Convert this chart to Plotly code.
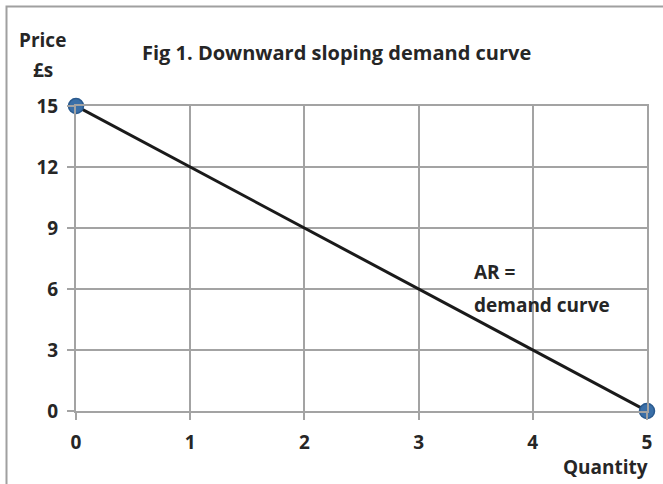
import plotly.graph_objects as go

quantity = [0, 5]
price = [15, 0]
x_ticks = [0, 1, 2, 3, 4, 5]
y_ticks = [0, 3, 6, 9, 12, 15]

W, H = 663, 484
L, R, T, B = 76, 16, 106, 73
grid = "#a3a3a3"
txt = "#262626"
font_fam = "Open Sans, Lato, sans-serif"
FS = 19

fig = go.Figure()
fig.add_trace(go.Scatter(
    x=quantity, y=price, mode="lines+markers",
    line=dict(color="#1a1a1a", width=3),
    marker=dict(size=15, color="#3a6fa8", line=dict(color="#2a5a8e", width=1.5)),
    cliponaxis=False, showlegend=False, hoverinfo="skip",
))

axis_common = dict(
    showgrid=True, gridcolor=grid, gridwidth=2,
    showline=True, linecolor=grid, linewidth=2, mirror=True,
    ticks="outside", ticklen=7, tickcolor=grid, tickwidth=2,
    zeroline=False,
    tickfont=dict(family=font_fam, size=FS, color=txt, weight="bold"),
)

fig.update_xaxes(range=[0, 5], tickvals=x_ticks, ticktext=[str(v) for v in x_ticks],
                 ticklabelstandoff=6, **axis_common)
fig.update_yaxes(range=[0, 15], tickvals=y_ticks, ticktext=[str(v) for v in y_ticks],
                 ticklabelstandoff=5, **axis_common)

pw = W - L - R
ph = H - T - B
def px(xp):
    return (xp - L) / pw
def py(yp):
    return (H - B - yp) / ph

ann = [
    ("Fig 1. Downward sloping demand curve", 336, 53, "center", 20),
    ("Price", 42, 40, "center", FS),
    ("£s", 43, 70, "center", FS),
    ("Quantity", 650, 467, "right", FS),
    ("AR =", 472, 272, "left", FS),
    ("demand curve", 472, 305, "left", FS),
]
for text, x, y, al, fs in ann:
    fig.add_annotation(text=text, xref="paper", yref="paper", x=px(x), y=py(y),
                       xanchor=al, yanchor="middle", showarrow=False,
                       font=dict(family=font_fam, size=fs, color=txt, weight="bold"))

fig.add_shape(type="rect", xref="paper", yref="paper",
              x0=px(6.5), x1=px(680), y0=py(500), y1=py(6.5),
              line=dict(color="#a0a0a0", width=2), layer="below")

fig.update_layout(
    width=W, height=H,
    margin=dict(l=L, r=R, t=T, b=B),
    plot_bgcolor="white", paper_bgcolor="white",
)

fig.write_html("out.html", config={"displayModeBar": False},
               post_script="document.body.style.margin='0px';")
